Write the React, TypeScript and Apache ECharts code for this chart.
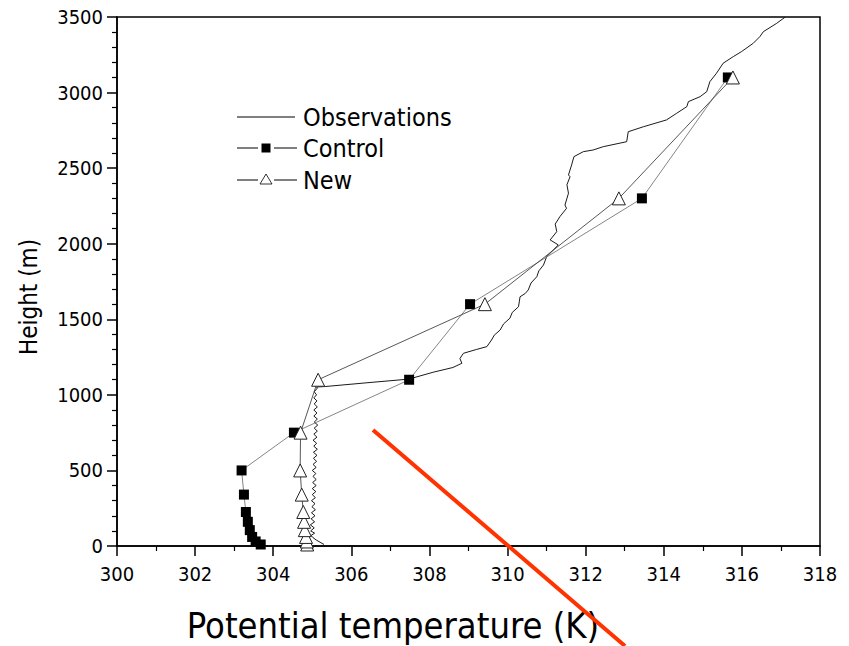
import React, { useEffect, useRef } from "react";
import * as echarts from "echarts";

// Model levels (m)
const levels = [10, 30, 60, 105, 160, 225, 340, 500, 750, 1100, 1600, 2300, 3100];
// Control run potential temperature (K)
const controlK = [303.68, 303.55, 303.46, 303.4, 303.35, 303.3, 303.25, 303.19, 304.53, 307.48, 309.04, 313.44, 315.64];
// New run potential temperature (K)
const newK = [304.87, 304.86, 304.84, 304.81, 304.79, 304.77, 304.73, 304.69, 304.7, 305.15, 309.42, 312.85, 315.77];

// Observed profile (K, m)
const obsK = [
  305.3, 305.2, 305.1, 305.02, 304.97, 305.06, 304.96, 305.05, 304.95, 305.06, 304.97, 305.07, 304.98, 305.08, 304.99,
  305.07, 304.98, 305.08, 305.0, 305.09, 305.0, 305.1, 305.01, 305.1, 305.02, 305.09, 305.0, 305.1, 305.02, 305.11,
  305.03, 305.12, 305.03, 305.13, 305.04, 305.11, 305.02, 305.12, 305.04, 305.13, 305.05, 305.14, 305.05, 305.13, 305.04,
  305.12, 305.04, 305.13, 305.05, 305.12, 305.04, 305.11, 305.05, 305.13, 305.11, 305.33, 306.4, 307.42, 307.58, 308.1,
  308.6, 308.83, 308.78, 308.87, 309.2, 309.47, 309.59, 309.66, 309.81, 309.9, 310.06, 310.12, 310.28, 310.3, 310.32,
  310.45, 310.53, 310.6, 310.75, 310.8, 310.92, 311.0, 311.3, 311.09, 311.26, 311.22, 311.34, 311.51, 311.47, 311.56,
  311.52, 311.6, 311.56, 311.64, 311.7, 311.94, 312.19, 312.45, 313.05, 313.09, 313.48, 314.07, 314.33, 314.59, 314.63,
  314.93, 315.1, 315.18, 315.35, 315.52, 315.78, 315.99, 316.29, 316.46, 316.55, 316.89, 317.1,
];
const obsH = [
  10, 25, 40, 55, 70, 85, 100, 120, 140, 160, 180, 200, 220, 240, 260,
  280, 300, 320, 340, 360, 380, 400, 420, 440, 460, 480, 500, 520, 540, 560,
  580, 600, 620, 640, 660, 680, 700, 720, 740, 760, 780, 800, 820, 840, 860,
  880, 900, 920, 940, 960, 980, 1000, 1020, 1045, 1052, 1055, 1080, 1103, 1112, 1150,
  1181, 1209, 1240, 1275, 1300, 1319, 1363, 1395, 1429, 1470, 1507, 1545, 1583, 1615, 1649,
  1670, 1694, 1740, 1782, 1820, 1859, 1914, 1992, 2025, 2080, 2130, 2179, 2234, 2256, 2334,
  2390, 2443, 2455, 2521, 2576, 2609, 2620, 2642, 2675, 2741, 2774, 2819, 2863, 2907, 2940,
  2973, 3006, 3072, 3128, 3194, 3238, 3271, 3326, 3370, 3403, 3458, 3498,
];

const FONT = "'DejaVu Sans Condensed', 'DejaVu Sans', sans-serif";

export default function App() {
  const ref = useRef<HTMLDivElement>(null);
  useEffect(() => {
    const chart = echarts.init(ref.current!, undefined, { renderer: "svg" });
    const obsData = obsK.map((k, i) => [k, obsH[i]]);
    const ctlData = controlK.map((k, i) => [k, levels[i]]);
    const newData = newK.map((k, i) => [k, levels[i]]);
    const axisCommon = {
      axisLine: { show: true, onZero: false, lineStyle: { color: "#000", width: 1.5 } },
      axisTick: { show: true, inside: false, length: 10, lineStyle: { color: "#000", width: 1.5 } },
      minorTick: { show: true, length: 5, lineStyle: { color: "#000", width: 1.2 } },
      splitLine: { show: false },
      minorSplitLine: { show: false },
    };
    const fmt = (v: number) => String(v);
    chart.setOption({
      animation: false,
      backgroundColor: "#fff",
      grid: { left: 117, right: 29, top: 17, bottom: 100, show: true, borderColor: "#000", borderWidth: 1.5 },
      xAxis: {
        type: "value",
        min: 300,
        max: 318,
        interval: 2,
        ...axisCommon,
        minorTick: { ...axisCommon.minorTick, splitNumber: 2 },
        axisLabel: { color: "#000", fontSize: 20, fontFamily: FONT, margin: 18, formatter: fmt },
      },
      yAxis: {
        type: "value",
        min: 0,
        max: 3500,
        interval: 500,
        ...axisCommon,
        minorTick: { ...axisCommon.minorTick, splitNumber: 5 },
        axisLabel: { color: "#000", fontSize: 20, fontFamily: FONT, margin: 14, formatter: fmt },
      },
      series: [
        {
          name: "Observations",
          type: "line",
          data: obsData,
          symbol: "none",
          lineStyle: { color: "#000", width: 0.9 },
          z: 2,
        },
        {
          name: "Control",
          type: "line",
          data: ctlData,
          symbol: "rect",
          symbolSize: 10,
          itemStyle: { color: "#000" },
          lineStyle: { color: "#777", width: 0.9 },
          z: 3,
        },
        {
          name: "New",
          type: "line",
          data: newData,
          symbol: "triangle",
          symbolSize: 13,
          itemStyle: { color: "#fff", borderColor: "#222", borderWidth: 1 },
          lineStyle: { color: "#444", width: 0.9 },
          z: 4,
        },
      ],
      graphic: [
        // legend
        { type: "line", shape: { x1: 237, y1: 117, x2: 295, y2: 117 }, style: { stroke: "#000", lineWidth: 1 } },
        { type: "text", x: 303, y: 117, style: { text: "Observations", font: `25px ${FONT}`, fill: "#000", textVerticalAlign: "middle" } },
        { type: "line", shape: { x1: 237, y1: 148, x2: 258, y2: 148 }, style: { stroke: "#000", lineWidth: 1 } },
        { type: "rect", shape: { x: 261.5, y: 143.5, width: 9, height: 9 }, style: { fill: "#000" } },
        { type: "line", shape: { x1: 274, y1: 148, x2: 297, y2: 148 }, style: { stroke: "#000", lineWidth: 1 } },
        { type: "text", x: 303, y: 148, style: { text: "Control", font: `25px ${FONT}`, fill: "#000", textVerticalAlign: "middle" } },
        { type: "line", shape: { x1: 237, y1: 180, x2: 258, y2: 180 }, style: { stroke: "#000", lineWidth: 1 } },
        { type: "polygon", shape: { points: [[266, 174], [272, 184], [260, 184]] }, style: { fill: "#fff", stroke: "#000", lineWidth: 0.8 } },
        { type: "line", shape: { x1: 274, y1: 180, x2: 297, y2: 180 }, style: { stroke: "#000", lineWidth: 1 } },
        { type: "text", x: 303, y: 180, style: { text: "New", font: `25px ${FONT}`, fill: "#000", textVerticalAlign: "middle" } },
        // axis titles
        {
          type: "text",
          x: 29,
          y: 297,
          rotation: Math.PI / 2,
          style: { text: "Height (m)", font: `24px ${FONT}`, fill: "#000", textAlign: "center", textVerticalAlign: "middle" },
        },
        {
          type: "text",
          x: 393,
          y: 625,
          style: { text: "Potential temperature (K)", font: `36px ${FONT}`, fill: "#000", textAlign: "center", textVerticalAlign: "middle" },
        },
        // red annotation stroke
        { type: "line", z: 100, shape: { x1: 373, y1: 430, x2: 625, y2: 646 }, style: { stroke: "#FF3300", lineWidth: 4 } },
      ],
    });
    return () => chart.dispose();
  }, []);
  return <div ref={ref} style={{ width: 849, height: 646, position: "absolute", left: 0, top: 0 }} />;
}
